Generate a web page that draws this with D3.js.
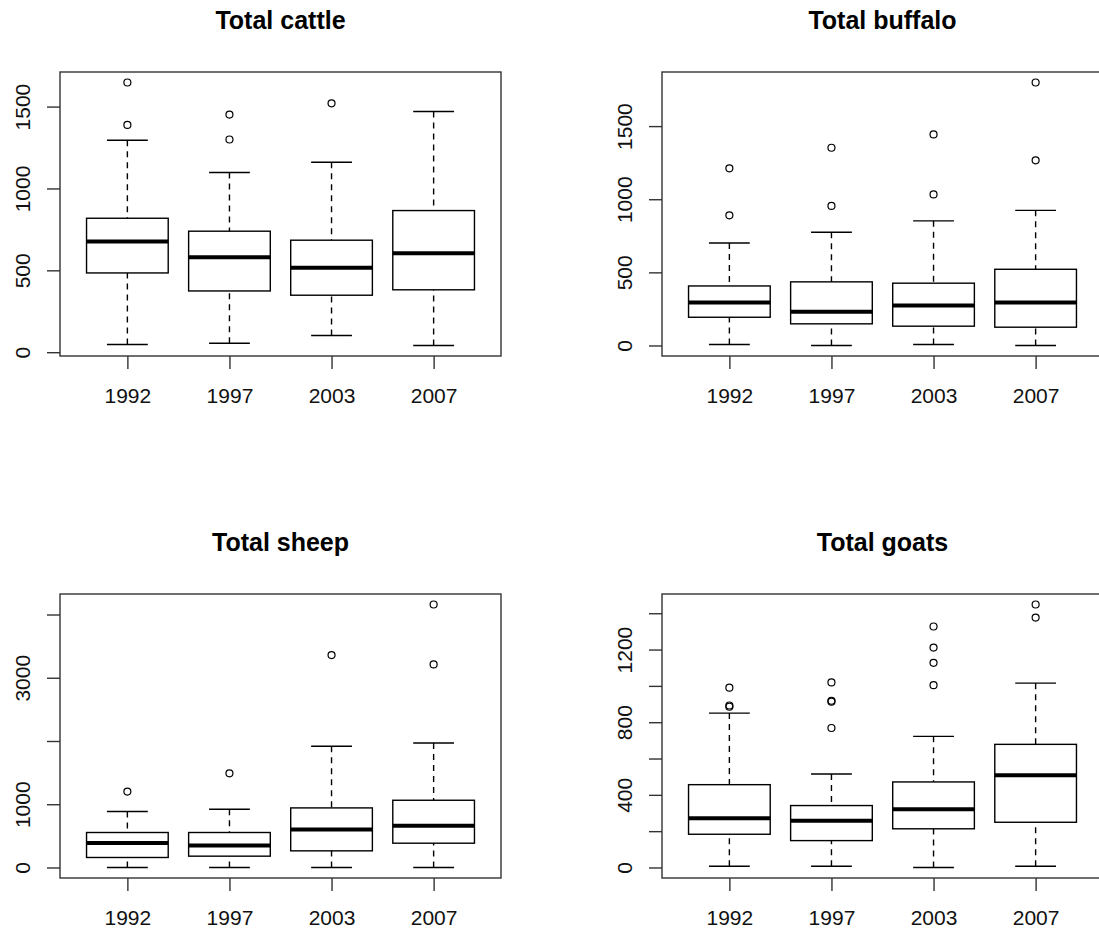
<!DOCTYPE html>
<html>
<head>
<meta charset="utf-8">
<script src="https://cdn.jsdelivr.net/npm/d3@7"></script>
<style>
  html, body { margin: 0; padding: 0; background: #fff; }
  svg { display: block; font-family: "Liberation Sans", Arial, sans-serif; }
</style>
</head>
<body>
<svg id="chart" width="1099" height="931"></svg>
<script>
// ---- Data ----
const years = ["1992", "1997", "2003", "2007"];

// stats per year: [lower whisker, Q1, median, Q3, upper whisker]
const cattleStats = [[47, 484, 676, 818, 1294], [55, 374, 580, 739, 1097], [102, 348, 515, 684, 1160], [41, 381, 604, 865, 1470]];
const cattleOut = [[1647, 1388], [1451, 1299], [1520], []];
const cattleTicks = [0, 500, 1000, 1500];
const cattleTickLabels = ["0", "500", "1000", "1500"];

const buffaloStats = [[7, 193, 294, 407, 701], [0, 148, 230, 435, 774], [7, 132, 273, 426, 852], [0, 125, 294, 521, 924]];
const buffaloOut = [[1211, 890], [1352, 954], [1443, 1033], [1798, 1266]];
const buffaloTicks = [0, 500, 1000, 1500];
const buffaloTickLabels = ["0", "500", "1000", "1500"];

const sheepStats = [[0, 158, 389, 553, 884], [0, 179, 347, 553, 921], [0, 263, 600, 942, 1916], [0, 384, 658, 1063, 1968]];
const sheepOut = [[1200], [1489], [3358], [4158, 3211]];
const sheepTicks = [0, 1000, 2000, 3000, 4000];
const sheepTickLabels = ["0", "1000", "", "3000", ""];

const goatStats = [[7, 183, 271, 456, 850], [7, 148, 257, 341, 515], [0, 213, 321, 471, 722], [7, 249, 508, 678, 1015]];
const goatOut = [[990, 892, 885], [1019, 918, 913, 768], [1327, 1211, 1127, 1004], [1448, 1376]];
const goatTicks = [0, 200, 400, 600, 800, 1000, 1200, 1400];
const goatTickLabels = ["0", "", "400", "", "800", "", "1200", ""];

const titles = ["Total cattle", "Total buffalo", "Total sheep", "Total goats"];

// ---- Layout ----
const panels = [
  { title: titles[0], stats: cattleStats, out: cattleOut, ticks: cattleTicks, labels: cattleTickLabels, left: 60, top: 72 },
  { title: titles[1], stats: buffaloStats, out: buffaloOut, ticks: buffaloTicks, labels: buffaloTickLabels, left: 662, top: 72 },
  { title: titles[2], stats: sheepStats, out: sheepOut, ticks: sheepTicks, labels: sheepTickLabels, left: 60, top: 594 },
  { title: titles[3], stats: goatStats, out: goatOut, ticks: goatTicks, labels: goatTickLabels, left: 662, top: 594 }
];
const W = 441, H = 284;
const svg = d3.select("#chart");

panels.forEach(p => {
  const g = svg.append("g").attr("transform", `translate(${p.left},${p.top})`);
  const all = p.stats.flat().concat(p.out.flat());
  const [mn, mx] = d3.extent(all);
  const r = mx - mn;
  const y = d3.scaleLinear().domain([mn - 0.04 * r, mx + 0.04 * r]).range([H, 0]);
  const n = years.length;
  const x = d3.scaleLinear().domain([0.5 - 0.04 * n, n + 0.5 + 0.04 * n]).range([0, W]);
  const bw = x(1.8) - x(1);   // box width 0.8
  const sw = bw / 2;          // staple width

  // title
  g.append("text")
    .attr("x", W / 2).attr("y", -43)
    .attr("text-anchor", "middle")
    .attr("font-size", 25).attr("font-weight", "bold")
    .attr("fill", "#000")
    .text(p.title);

  // y axis
  const yAxis = d3.axisLeft(y).tickValues(p.ticks).tickSize(13).tickFormat((d, i) => p.labels[i]);
  const ya = g.append("g").call(yAxis);
  ya.select(".domain").remove();
  ya.selectAll(".tick line").attr("stroke", "#333").attr("stroke-width", 1.4);
  ya.selectAll(".tick text")
    .attr("x", null).attr("dy", null)
    .attr("font-size", 21).attr("fill", "#111")
    .attr("font-family", '"Liberation Sans", Arial, sans-serif')
    .attr("text-anchor", "middle")
    .attr("transform", "translate(-30,0) rotate(-90)");

  // x axis
  const xAxis = d3.axisBottom(x).tickValues([1, 2, 3, 4]).tickSize(13).tickFormat((d, i) => years[i]);
  const xa = g.append("g").attr("transform", `translate(0,${H})`).call(xAxis);
  xa.select(".domain").remove();
  xa.selectAll(".tick line").attr("stroke", "#333").attr("stroke-width", 1.4);
  xa.selectAll(".tick text")
    .attr("dy", null)
    .attr("y", 47)
    .attr("font-size", 21).attr("fill", "#111")
    .attr("font-family", '"Liberation Sans", Arial, sans-serif');

  // boxes
  p.stats.forEach((s, i) => {
    const cx = x(i + 1);
    const [lo, q1, med, q3, hi] = s;
    const bg = g.append("g");
    // whiskers (dashed)
    bg.append("line").attr("x1", cx).attr("x2", cx).attr("y1", y(hi)).attr("y2", y(q3))
      .attr("stroke", "#000").attr("stroke-width", 1.4).attr("stroke-dasharray", "6,5");
    bg.append("line").attr("x1", cx).attr("x2", cx).attr("y1", y(lo)).attr("y2", y(q1))
      .attr("stroke", "#000").attr("stroke-width", 1.4).attr("stroke-dasharray", "6,5");
    // staples
    [lo, hi].forEach(v => {
      bg.append("line").attr("x1", cx - sw / 2).attr("x2", cx + sw / 2).attr("y1", y(v)).attr("y2", y(v))
        .attr("stroke", "#000").attr("stroke-width", 1.4);
    });
    // box
    bg.append("rect").attr("x", cx - bw / 2).attr("width", bw)
      .attr("y", y(q3)).attr("height", y(q1) - y(q3))
      .attr("fill", "none").attr("stroke", "#000").attr("stroke-width", 1.4);
    // median
    bg.append("line").attr("x1", cx - bw / 2).attr("x2", cx + bw / 2).attr("y1", y(med)).attr("y2", y(med))
      .attr("stroke", "#000").attr("stroke-width", 4);
    // outliers
    bg.selectAll("circle.o").data(p.out[i]).enter().append("circle")
      .attr("cx", cx).attr("cy", d => y(d)).attr("r", 3.5)
      .attr("fill", "none").attr("stroke", "#000").attr("stroke-width", 1.2);
  });

  // frame
  g.append("rect").attr("x", 0).attr("y", 0).attr("width", W).attr("height", H)
    .attr("fill", "none").attr("stroke", "#333").attr("stroke-width", 1.4);
});
</script>
</body>
</html>
